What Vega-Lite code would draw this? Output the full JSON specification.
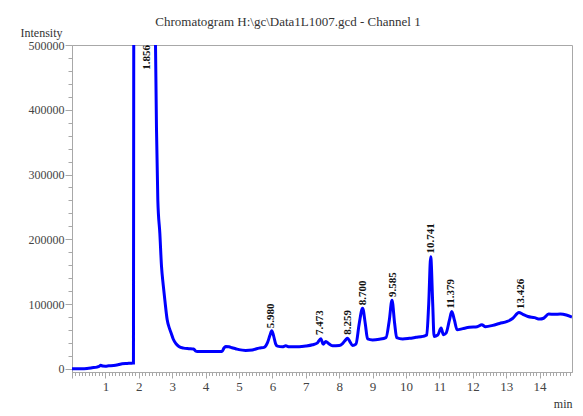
{
  "$schema": "https://vega.github.io/schema/vega-lite/v6.json",
  "autosize": {"type": "none"},
  "padding": {"left": 72, "top": 45, "right": 11, "bottom": 44},
  "width": 500,
  "height": 327,
  "background": "white",
  "config": {
    "view": {"stroke": "#a8a8a8", "strokeWidth": 1},
    "font": "Liberation Serif, Times New Roman, serif"
  },
  "title": {
    "text": "Chromatogram H:\\gc\\Data1L1007.gcd - Channel 1",
    "font": "Liberation Serif, Times New Roman, serif",
    "fontSize": 13,
    "fontWeight": "normal",
    "color": "#333333",
    "anchor": "middle",
    "frame": "group",
    "dx": -34,
    "dy": 2,
    "offset": 0
  },
  "datasets": {
    "trace": [
      {"t": 0.0, "v": 0}, {"t": 0.3, "v": 0}, {"t": 0.45, "v": 500}, {"t": 0.6, "v": 1500},
      {"t": 0.75, "v": 2600}, {"t": 0.82, "v": 4000}, {"t": 0.86, "v": 5500}, {"t": 0.92, "v": 4200},
      {"t": 1.0, "v": 4000}, {"t": 1.1, "v": 4500}, {"t": 1.25, "v": 5000}, {"t": 1.4, "v": 6500},
      {"t": 1.5, "v": 7700}, {"t": 1.65, "v": 8200}, {"t": 1.8, "v": 8700}, {"t": 1.84, "v": 8800},
      {"t": 1.85, "v": 600000}, {"t": 1.9, "v": 1000000}, {"t": 2.2, "v": 1300000}, {"t": 2.45, "v": 900000},
      {"t": 2.5, "v": 500000}, {"t": 2.53, "v": 370000}, {"t": 2.57, "v": 260000}, {"t": 2.63, "v": 209000},
      {"t": 2.68, "v": 158000}, {"t": 2.73, "v": 130000}, {"t": 2.78, "v": 106000}, {"t": 2.85, "v": 75600},
      {"t": 2.92, "v": 62000}, {"t": 2.97, "v": 55000}, {"t": 3.03, "v": 46000}, {"t": 3.1, "v": 39700},
      {"t": 3.2, "v": 34500}, {"t": 3.34, "v": 31900}, {"t": 3.5, "v": 31000}, {"t": 3.64, "v": 30400},
      {"t": 3.7, "v": 27500}, {"t": 3.75, "v": 26700}, {"t": 4.2, "v": 26700}, {"t": 4.49, "v": 26800},
      {"t": 4.55, "v": 32000}, {"t": 4.6, "v": 34400}, {"t": 4.7, "v": 34000}, {"t": 4.79, "v": 32500},
      {"t": 4.9, "v": 31000}, {"t": 5.0, "v": 29500}, {"t": 5.2, "v": 28300}, {"t": 5.4, "v": 29000},
      {"t": 5.5, "v": 30500}, {"t": 5.6, "v": 31900}, {"t": 5.75, "v": 33000}, {"t": 5.85, "v": 40000},
      {"t": 5.93, "v": 52000}, {"t": 5.98, "v": 58600}, {"t": 6.03, "v": 52000}, {"t": 6.1, "v": 38000},
      {"t": 6.15, "v": 35000}, {"t": 6.3, "v": 34000}, {"t": 6.4, "v": 35500}, {"t": 6.5, "v": 34000},
      {"t": 6.8, "v": 34000}, {"t": 7.0, "v": 35000}, {"t": 7.2, "v": 37000}, {"t": 7.35, "v": 40000},
      {"t": 7.45, "v": 46500}, {"t": 7.52, "v": 38000}, {"t": 7.6, "v": 42000}, {"t": 7.68, "v": 39000},
      {"t": 7.8, "v": 35500}, {"t": 8.0, "v": 36000}, {"t": 8.1, "v": 39000}, {"t": 8.2, "v": 45000},
      {"t": 8.25, "v": 47300}, {"t": 8.32, "v": 42000}, {"t": 8.4, "v": 36000}, {"t": 8.5, "v": 38000},
      {"t": 8.6, "v": 70000}, {"t": 8.7, "v": 93600}, {"t": 8.78, "v": 70000}, {"t": 8.85, "v": 46000},
      {"t": 9.0, "v": 44500}, {"t": 9.2, "v": 45500}, {"t": 9.4, "v": 48000}, {"t": 9.5, "v": 75000},
      {"t": 9.58, "v": 106000}, {"t": 9.66, "v": 70000}, {"t": 9.72, "v": 48000}, {"t": 9.9, "v": 46000},
      {"t": 10.1, "v": 47000}, {"t": 10.3, "v": 48500}, {"t": 10.5, "v": 50000}, {"t": 10.62, "v": 52000},
      {"t": 10.68, "v": 100000}, {"t": 10.74, "v": 173000}, {"t": 10.8, "v": 100000}, {"t": 10.84, "v": 50000},
      {"t": 10.95, "v": 52000}, {"t": 11.05, "v": 62800}, {"t": 11.12, "v": 52500}, {"t": 11.2, "v": 55000},
      {"t": 11.3, "v": 75000}, {"t": 11.37, "v": 88400}, {"t": 11.45, "v": 75000}, {"t": 11.53, "v": 60200},
      {"t": 11.7, "v": 62000}, {"t": 11.9, "v": 64000}, {"t": 12.13, "v": 64800}, {"t": 12.27, "v": 68000},
      {"t": 12.38, "v": 65000}, {"t": 12.6, "v": 67000}, {"t": 12.8, "v": 70000}, {"t": 13.03, "v": 73000},
      {"t": 13.2, "v": 78000}, {"t": 13.38, "v": 86900}, {"t": 13.5, "v": 84000}, {"t": 13.65, "v": 80700},
      {"t": 13.85, "v": 79000}, {"t": 14.0, "v": 76700}, {"t": 14.12, "v": 78000}, {"t": 14.27, "v": 84400},
      {"t": 14.45, "v": 84000}, {"t": 14.62, "v": 84400}, {"t": 14.8, "v": 83000}, {"t": 14.97, "v": 79800}
    ],
    "peaks": [
      {"label": "1.856", "rt": 2.25, "apex": 457000},
      {"label": "5.980", "rt": 5.97, "apex": 58000},
      {"label": "7.473", "rt": 7.44, "apex": 47500},
      {"label": "8.259", "rt": 8.25, "apex": 47800},
      {"label": "8.700", "rt": 8.7, "apex": 93600},
      {"label": "9.585", "rt": 9.6, "apex": 106000},
      {"label": "10.741", "rt": 10.76, "apex": 173500},
      {"label": "11.379", "rt": 11.35, "apex": 88400},
      {"label": "13.426", "rt": 13.45, "apex": 87500}
    ]
  },
  "layer": [
    {
      "data": {"name": "trace"},
      "mark": {"type": "line", "color": "#0000ff", "strokeWidth": 3, "clip": true, "interpolate": "monotone"},
      "encoding": {
        "x": {
          "field": "t", "type": "quantitative",
          "scale": {"domain": [0, 14.97], "nice": false, "zero": false},
          "axis": {
            "title": "min",
            "titleX": 500, "titleY": 35, "titleAlign": "right", "titleBaseline": "alphabetic",
            "titleFont": "Liberation Serif, Times New Roman, serif", "titleFontSize": 12, "titleFontWeight": "normal", "titleColor": "#333333",
            "tickCount": 1000,
            "values": [0,0.1,0.2,0.3,0.4,0.5,0.6,0.7,0.8,0.9,1,1.1,1.2,1.3,1.4,1.5,1.6,1.7,1.8,1.9,2,2.1,2.2,2.3,2.4,2.5,2.6,2.7,2.8,2.9,3,3.1,3.2,3.3,3.4,3.5,3.6,3.7,3.8,3.9,4,4.1,4.2,4.3,4.4,4.5,4.6,4.7,4.8,4.9,5,5.1,5.2,5.3,5.4,5.5,5.6,5.7,5.8,5.9,6,6.1,6.2,6.3,6.4,6.5,6.6,6.7,6.8,6.9,7,7.1,7.2,7.3,7.4,7.5,7.6,7.7,7.8,7.9,8,8.1,8.2,8.3,8.4,8.5,8.6,8.7,8.8,8.9,9,9.1,9.2,9.3,9.4,9.5,9.6,9.7,9.8,9.9,10,10.1,10.2,10.3,10.4,10.5,10.6,10.7,10.8,10.9,11,11.1,11.2,11.3,11.4,11.5,11.6,11.7,11.8,11.9,12,12.1,12.2,12.3,12.4,12.5,12.6,12.7,12.8,12.9,13,13.1,13.2,13.3,13.4,13.5,13.6,13.7,13.8,13.9,14,14.1,14.2,14.3,14.4,14.5,14.6,14.7,14.8,14.9],
            "labelExpr": "abs(datum.value - round(datum.value)) < 0.001 && datum.value > 0 ? format(datum.value, 'd') : ''",
            "labelOverlap": false,
            "labelFlush": false,
            "labelFont": "Liberation Serif, Times New Roman, serif", "labelFontSize": 13, "labelColor": "#444444",
            "labelPadding": 2,
            "grid": false,
            "domainColor": "#a8a8a8",
            "tickColor": "#a8a8a8",
            "tickSize": {"condition": {"test": "abs(datum.value - round(datum.value)) < 0.001", "value": 6}, "value": 3.5}
          }
        },
        "y": {
          "field": "v", "type": "quantitative",
          "scale": {"domain": [-5000, 500000], "nice": false, "zero": false},
          "axis": {
            "title": "Intensity",
            "titleAngle": 0, "titleX": -52, "titleY": -8.5, "titleAlign": "left", "titleBaseline": "alphabetic",
            "titleFont": "Liberation Serif, Times New Roman, serif", "titleFontSize": 12, "titleFontWeight": "normal", "titleColor": "#333333",
            "tickCount": 1000,
            "values": [0,20000,40000,60000,80000,100000,120000,140000,160000,180000,200000,220000,240000,260000,280000,300000,320000,340000,360000,380000,400000,420000,440000,460000,480000,500000],
            "labelExpr": "datum.value % 100000 === 0 ? format(datum.value, 'd') : ''",
            "labelOverlap": false,
            "labelFlush": false,
            "labelFont": "Liberation Serif, Times New Roman, serif", "labelFontSize": 12, "labelColor": "#444444",
            "labelPadding": 1,
            "grid": false,
            "domainColor": "#a8a8a8",
            "tickColor": "#a8a8a8",
            "tickSize": {"condition": {"test": "datum.value % 100000 === 0", "value": 7}, "value": 4}
          }
        }
      }
    },
    {
      "data": {"name": "peaks"},
      "mark": {"type": "text", "angle": 270, "align": "left", "baseline": "middle", "dx": 3,
               "font": "Liberation Serif, Times New Roman, serif", "fontSize": 11, "fontWeight": "bold", "color": "#111111"},
      "encoding": {
        "x": {"field": "rt", "type": "quantitative"},
        "y": {"field": "apex", "type": "quantitative"},
        "text": {"field": "label", "type": "nominal"}
      }
    }
  ]
}
